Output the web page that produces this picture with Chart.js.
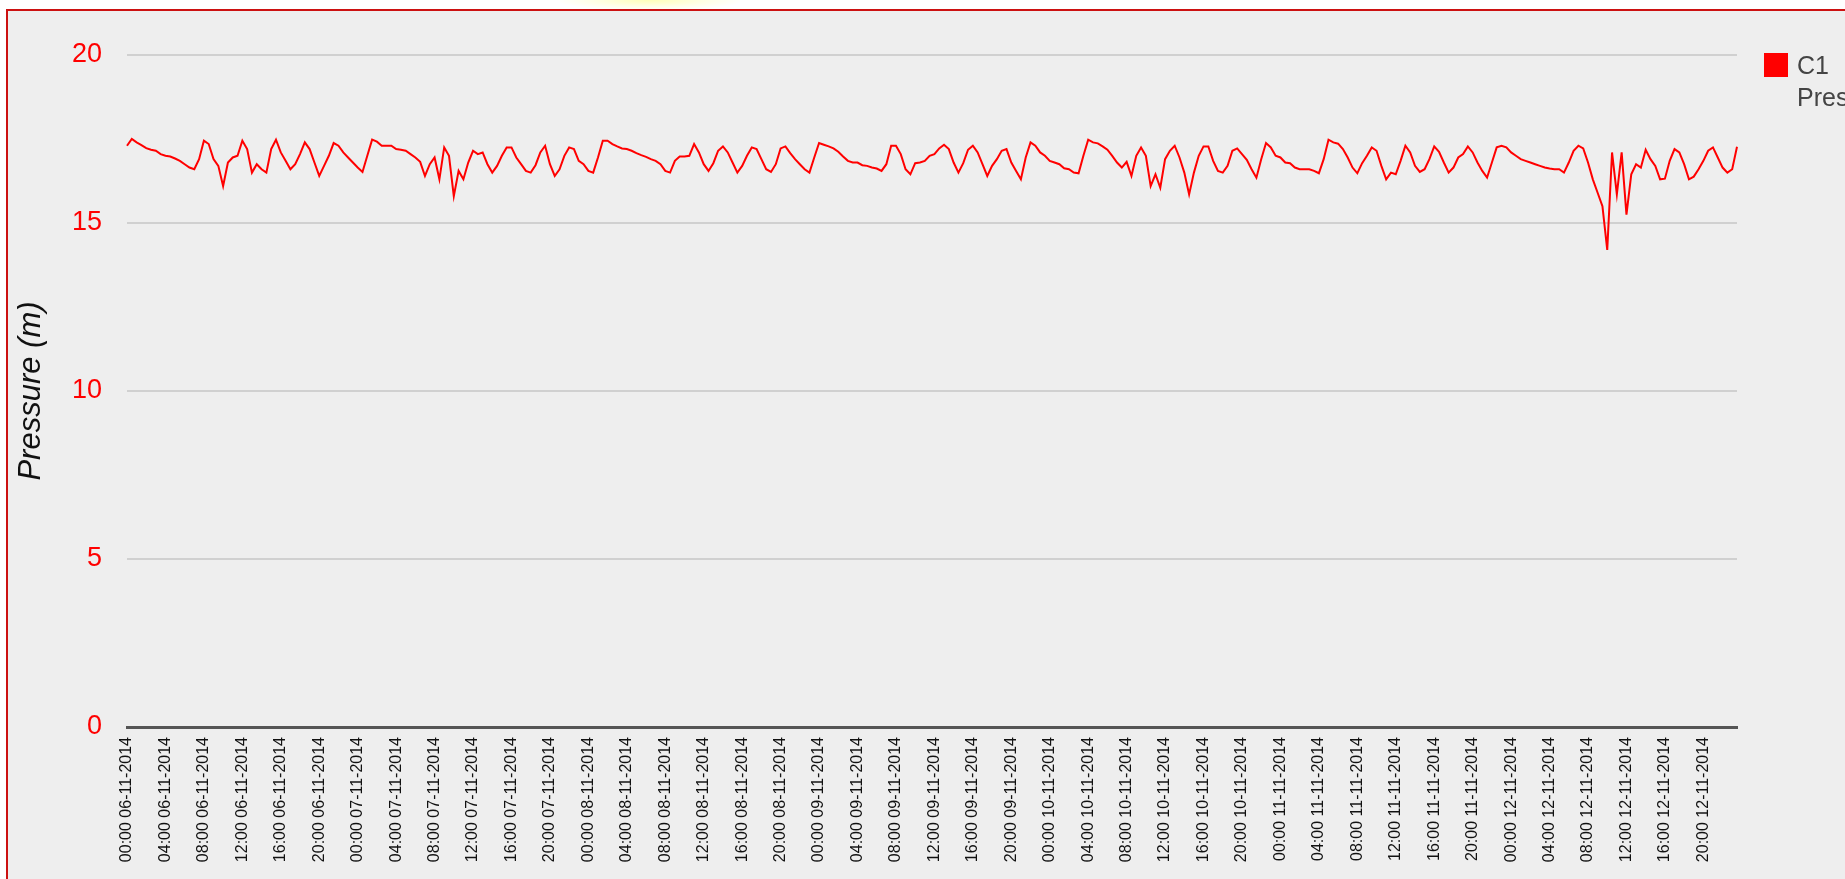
<!DOCTYPE html>
<html>
<head>
<meta charset="utf-8">
<script src="https://cdn.jsdelivr.net/npm/chart.js@4"></script>
<style>
  html, body { margin:0; padding:0; width:1845px; height:879px; overflow:hidden; background:#ffffff; }
  #frame { position:absolute; left:6px; top:9px; width:1900px; height:900px; border:2px solid #cc1111; background:#eeeeee; box-sizing:border-box; }
  #glow { position:absolute; left:560px; top:0; width:180px; height:10px; background:radial-gradient(ellipse at 50% 0%, #ffffb8 0%, #ffffe6 45%, #ffffff 75%); }
  #wrap { position:absolute; left:0; top:0; width:1845px; height:879px; }
  #legend { position:absolute; left:1764px; top:49px; font-family:'Liberation Sans', Arial, sans-serif; font-size:25px; line-height:32px; color:#444; white-space:nowrap; }
  #legend .sw { position:absolute; left:0; top:4px; width:24px; height:24px; background:#ff0000; }
  #legend .tx { position:absolute; left:33px; top:0; }
</style>
</head>
<body>
<div id="glow"></div>
<div id="frame"></div>
<div id="wrap"><canvas id="c" width="1845" height="879"></canvas></div>
<div id="legend"><div class="sw"></div><div class="tx">C1<br>Pressure</div></div>
<script>
// Days shown on the x axis (one reading every 30 minutes)
const days = ['06-11-2014','07-11-2014','08-11-2014','09-11-2014','10-11-2014','11-11-2014','12-11-2014'];
const yTicks = [0, 5, 10, 15, 20];
const seriesName = 'C1 Pressure';

// Pressure (m), 48 half-hourly readings per day
const day06 = [17.30,17.50,17.40,17.32,17.23,17.18,17.15,17.05,17.00,16.98,16.92,16.85,16.75,16.65,16.60,16.90,
  17.45,17.35,16.90,16.70,16.10,16.80,16.95,17.00,17.45,17.20,16.50,16.75,16.60,16.50,17.20,17.48,
  17.10,16.85,16.60,16.75,17.05,17.40,17.20,16.80,16.40,16.70,17.00,17.38,17.30,17.10,16.95,16.80];
const day07 = [16.65,16.52,17.00,17.48,17.42,17.30,17.30,17.30,17.20,17.18,17.15,17.05,16.95,16.82,16.40,16.75,
  16.95,16.30,17.25,17.00,15.80,16.55,16.30,16.80,17.15,17.05,17.10,16.75,16.50,16.70,17.00,17.25,
  17.25,16.95,16.75,16.55,16.50,16.72,17.10,17.30,16.75,16.40,16.60,17.00,17.25,17.20,16.85,16.75];
const day08 = [16.55,16.50,16.95,17.45,17.45,17.35,17.28,17.22,17.20,17.15,17.08,17.02,16.97,16.90,16.85,16.75,
  16.55,16.50,16.85,16.98,16.98,17.00,17.35,17.10,16.75,16.55,16.78,17.15,17.28,17.10,16.80,16.50,
  16.70,17.00,17.25,17.20,16.90,16.60,16.52,16.75,17.22,17.28,17.08,16.90,16.75,16.60,16.50,16.95];
const day09 = [17.38,17.33,17.28,17.22,17.12,16.98,16.85,16.80,16.80,16.72,16.70,16.65,16.62,16.55,16.75,17.30,
  17.30,17.05,16.60,16.45,16.78,16.80,16.85,17.00,17.05,17.22,17.33,17.20,16.80,16.50,16.78,17.18,
  17.30,17.10,16.75,16.40,16.70,16.90,17.15,17.20,16.80,16.55,16.30,16.95,17.40,17.30,17.10,17.00];
const day10 = [16.85,16.80,16.75,16.63,16.60,16.50,16.48,17.00,17.48,17.40,17.37,17.28,17.18,17.00,16.80,16.65,
  16.82,16.40,17.00,17.25,17.00,16.10,16.45,16.05,16.90,17.15,17.30,16.95,16.50,15.85,16.50,17.00,
  17.28,17.28,16.85,16.55,16.50,16.70,17.15,17.22,17.05,16.88,16.60,16.35,16.90,17.38,17.25,17.00];
const day11 = [16.95,16.80,16.78,16.65,16.60,16.60,16.60,16.55,16.48,16.90,17.48,17.40,17.36,17.20,16.95,16.65,
  16.48,16.78,17.00,17.25,17.15,16.70,16.30,16.50,16.45,16.85,17.30,17.10,16.70,16.52,16.60,16.90,
  17.28,17.12,16.80,16.50,16.65,16.95,17.05,17.28,17.10,16.80,16.55,16.35,16.80,17.25,17.30,17.25];
const day12 = [17.10,17.00,16.90,16.85,16.80,16.75,16.70,16.65,16.62,16.60,16.60,16.50,16.80,17.15,17.30,17.22,
  16.80,16.30,15.90,15.50,14.20,17.10,15.85,17.10,15.25,16.45,16.75,16.65,17.18,16.90,16.70,16.30,
  16.32,16.85,17.20,17.10,16.75,16.30,16.38,16.60,16.85,17.15,17.25,16.95,16.65,16.50,16.60,17.27];

const pressure = [].concat(day06, day07, day08, day09, day10, day11, day12);

const categories = [];
days.forEach(d => {
  for (let i = 0; i < 48; i++) {
    const hh = String(Math.floor(i / 2)).padStart(2, '0');
    const mm = i % 2 ? '30' : '00';
    categories.push(hh + ':' + mm + ' ' + d);
  }
});

const FONT = "'Liberation Sans', Arial, sans-serif";

new Chart(document.getElementById('c'), {
  type: 'line',
  data: {
    labels: categories,
    datasets: [{
      label: seriesName,
      data: pressure,
      borderColor: '#ff0000',
      backgroundColor: '#ff0000',
      borderWidth: 2,
      pointRadius: 0,
      tension: 0,
      fill: false
    }]
  },
  options: {
    responsive: false,
    animation: false,
    devicePixelRatio: 1,
    layout: { padding: { left: 0, top: 55, right: 108, bottom: 0 } },
    plugins: { legend: { display: false }, tooltip: { enabled: false } },
    scales: {
      x: {
        type: 'category',
        offset: false,
        grid: { display: false, drawTicks: false },
        border: { display: true, color: '#555555', width: 3 },
        ticks: {
          autoSkip: false,
          minRotation: 90,
          maxRotation: 90,
          padding: 10,
          color: '#111111',
          font: { family: FONT, size: 16 },
          callback: function(value, index) {
            return index % 8 === 0 ? categories[index] : null;
          }
        },
        afterFit: function(scale) { scale.height = 152; }
      },
      y: {
        min: 0,
        max: 20,
        afterBuildTicks: function(scale) { scale.ticks = yTicks.map(v => ({ value: v })); },
        grid: {
          drawTicks: false,
          lineWidth: 2,
          color: ctx => (ctx.tick && ctx.tick.value === 0) ? 'rgba(0,0,0,0)' : '#d0d0d0'
        },
        border: { display: false },
        ticks: {
          padding: 25,
          color: '#ff0000',
          font: { family: FONT, size: 27 }
        },
        title: {
          display: true,
          text: 'Pressure (m)',
          color: '#111111',
          font: { family: FONT, size: 31, style: 'italic' },
          padding: { top: 13, bottom: 0 }
        },
        afterFit: function(scale) { scale.width = 127; }
      }
    }
  }
});
</script>
</body>
</html>
